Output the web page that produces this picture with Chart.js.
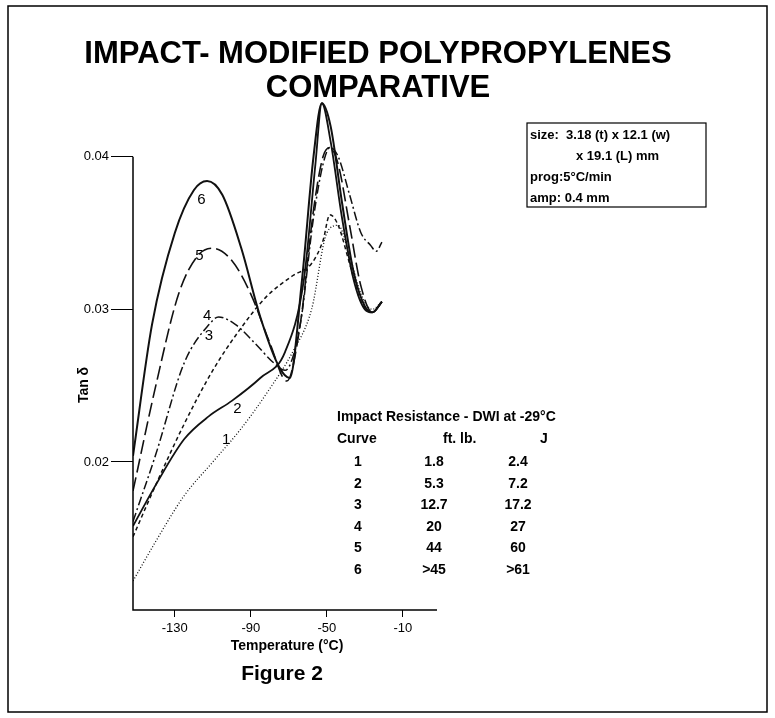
<!DOCTYPE html><html><head><style>html,body{margin:0;background:#fff}#w{position:relative;width:775px;height:718px}</style>
<script src="https://cdn.jsdelivr.net/npm/chart.js@4"></script></head><body><div id="w"><canvas id="c" width="775" height="718"></canvas></div>
<script>
const curveLabels=["1","2","3","4","5","6"];
const c1T=[-152,-140,-125,-110,-95,-80,-68,-58,-50,-44,-38,-32,-26,-21];
const c1V=[0.0122,0.0148,0.0178,0.0200,0.0222,0.0248,0.0272,0.0300,0.0350,0.0355,0.0335,0.0310,0.0300,0.0305];
const c2T=[-152,-140,-125,-112,-100,-85,-72,-62,-56,-52.6,-48,-42,-36,-30,-26,-21];
const c2V=[0.0158,0.0185,0.0215,0.0230,0.0240,0.0255,0.0272,0.0320,0.0395,0.0435,0.0410,0.0360,0.0320,0.0300,0.0298,0.0305];
const c3T=[-152,-140,-125,-110,-95,-82,-68,-58,-52,-48.4,-44,-38,-32,-26,-21];
const c3V=[0.0151,0.0185,0.0225,0.0260,0.0288,0.0308,0.0322,0.0330,0.0345,0.0362,0.0355,0.0330,0.0305,0.0298,0.0305];
const c4T=[-152,-140,-125,-112,-107,-98,-88,-78,-72,-64,-57,-52,-48.4,-44,-38,-32,-27,-24,-21];
const c4V=[0.0161,0.0205,0.0265,0.0290,0.0295,0.0290,0.0278,0.0265,0.0260,0.0290,0.0360,0.0395,0.0406,0.0400,0.0375,0.0350,0.0342,0.0338,0.0344];
const c5T=[-152,-140,-128,-118,-110,-100,-90,-80,-71,-64,-57,-52,-48.4,-44,-38,-32,-26,-21];
const c5V=[0.0181,0.0250,0.0310,0.0335,0.0340,0.0332,0.0310,0.0278,0.0253,0.0290,0.0365,0.0400,0.0406,0.0395,0.0355,0.0315,0.0298,0.0305];
const c6T=[-152,-142,-130,-120,-113,-105,-95,-85,-75,-69.5,-63,-57,-52.6,-48,-42,-36,-30,-26,-21];
const c6V=[0.0204,0.0290,0.0350,0.0378,0.0384,0.0375,0.0340,0.0295,0.0262,0.0255,0.0320,0.0400,0.0435,0.0420,0.0370,0.0325,0.0302,0.0298,0.0305];
const xTicks=[-130,-90,-50,-10];
const yTicks=[0.02,0.03,0.04];
const tableHeader=["Curve","ft. lb.","J"];
const tableFt=["1.8","5.3","12.7","20","44",">45"];
const tableJ=["2.4","7.2","17.2","27","60",">61"];
const mk=(T,V)=>T.map((t,i)=>({x:t,y:V[i]}));
const styles=[[1,2],[],[4,3],[9,3,2,3],[14,5],[]];
const widths=[1.3,1.8,1.5,1.5,1.6,2.0];
const sets=[c1T,c2T,c3T,c4T,c5T,c6T].map((T,i)=>({label:curveLabels[i],data:mk(T,[c1V,c2V,c3V,c4V,c5V,c6V][i]),borderColor:'#111',borderWidth:widths[i],borderDash:styles[i],pointRadius:0,tension:0,cubicInterpolationMode:'monotone',fill:false}));
const F='"Liberation Sans",Arial,sans-serif';
const deco={id:'deco',afterDraw(ch){const g=ch.ctx,xs=ch.scales.x,ys=ch.scales.y;g.save();g.strokeStyle='#000';g.lineWidth=1.5;
g.strokeRect(8,6,759,706);
g.beginPath();g.moveTo(xs.left,ys.getPixelForValue(0.04));g.lineTo(xs.left,ys.bottom);g.lineTo(xs.right,ys.bottom);g.stroke();
g.fillStyle='#000';g.textAlign='center';g.textBaseline='alphabetic';g.font='bold 31px '+F;
g.fillText('IMPACT- MODIFIED POLYPROPYLENES',378,63);g.fillText('COMPARATIVE',378,97);
g.font='bold 21px '+F;g.fillText('Figure 2',282,680);
g.font='bold 14px '+F;g.fillText('Temperature (°C)',287,650);
g.save();g.translate(88,385);g.rotate(-Math.PI/2);g.fillText('Tan δ',0,0);g.restore();
g.font='15px '+F;const lp=[[-118,0.0245],[-112,0.0228],[-122,0.0262],[-128,0.0295],[-124,0.0330],[-115,0.0372]];
[[-103,0.0212],[-97,0.0232],[-112,0.0280],[-113,0.0293],[-117,0.0332],[-116,0.0369]].forEach((p,i)=>g.fillText(curveLabels[i],xs.getPixelForValue(p[0]),ys.getPixelForValue(p[1])));
g.lineWidth=1.2;g.strokeRect(527,123,179,84);g.textAlign='left';g.font='bold 13px '+F;
g.fillText('size:  3.18 (t) x 12.1 (w)',530,139);g.fillText('x 19.1 (L) mm',576,160);g.fillText('prog:5°C/min',530,181);g.fillText('amp: 0.4 mm',530,202);
g.font='bold 14px '+F;g.fillText('Impact Resistance - DWI at -29°C',337,421);
g.fillText(tableHeader[0],337,443);g.fillText(tableHeader[1],443,443);g.fillText(tableHeader[2],540,443);
g.textAlign='center';for(let i=0;i<6;i++){const y=466+i*21.5;g.fillText(curveLabels[i],358,y);g.fillText(tableFt[i],434,y);g.fillText(tableJ[i],518,y);}
g.restore();}};
new Chart(document.getElementById('c'),{type:'line',data:{datasets:sets},plugins:[deco],options:{responsive:false,animation:false,layout:{padding:{top:88,right:338,left:0,bottom:0}},plugins:{legend:{display:false},tooltip:{enabled:false}},
scales:{x:{type:'linear',min:-152,max:8,afterFit:s=>{s.height=108},afterBuildTicks:s=>{s.ticks=xTicks.map(v=>({value:v}))},border:{display:false},grid:{drawOnChartArea:false,color:'#000',tickLength:7},ticks:{color:'#000',font:{family:F,size:13},padding:4}},
y:{min:0.0103,max:0.0445,afterFit:s=>{s.width=133},afterBuildTicks:s=>{s.ticks=yTicks.map(v=>({value:v}))},border:{display:false},grid:{drawOnChartArea:false,color:'#000',tickLength:22},ticks:{color:'#000',font:{family:F,size:13},callback:v=>v.toFixed(2),padding:2}}}}});
</script></body></html>
